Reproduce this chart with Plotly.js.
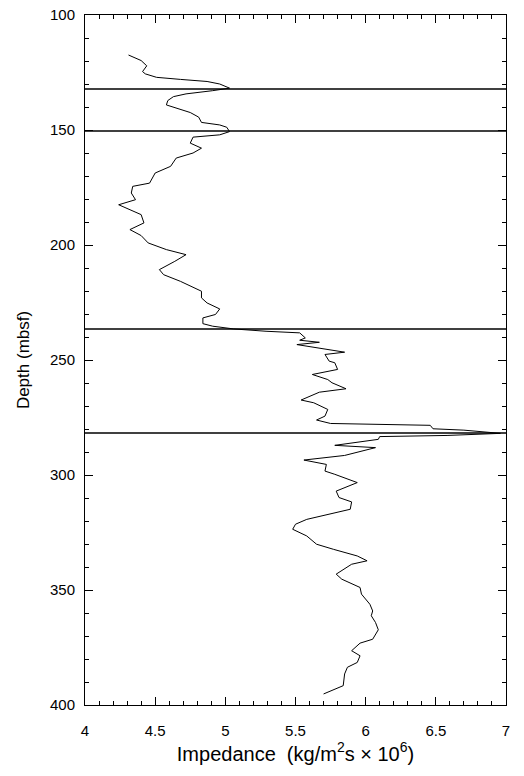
<!DOCTYPE html>
<html>
<head>
<meta charset="utf-8">
<script src="https://cdn.plot.ly/plotly-3.0.1.min.js"></script>
<style>body{margin:0;padding:0;background:#fff;}#chart{width:524px;height:776px;}</style>
</head>
<body>
<div id="chart"></div>
<script>
const impedance = [4.31,4.40,4.44,4.41,4.43,4.51,4.68,4.87,4.96,5.03,4.91,4.72,4.63,4.59,4.58,4.65,4.75,4.81,4.83,4.96,5.01,5.03,4.96,4.77,4.75,4.83,4.77,4.65,4.61,4.50,4.46,4.34,4.33,4.36,4.24,4.40,4.42,4.32,4.40,4.45,4.58,4.72,4.64,4.53,4.56,4.68,4.75,4.83,4.83,4.87,4.96,4.93,4.84,4.84,4.91,5.06,5.29,5.53,5.57,5.53,5.67,5.51,5.85,5.71,5.74,5.78,5.80,5.62,5.73,5.76,5.86,5.67,5.54,5.63,5.73,5.71,5.65,5.75,6.46,6.48,6.70,6.96,6.58,6.10,6.09,5.78,6.07,5.85,5.56,5.72,5.71,5.78,5.94,5.79,5.81,5.90,5.89,5.58,5.50,5.48,5.58,5.65,5.77,5.94,6.01,5.90,5.79,5.83,5.96,5.97,6.03,6.05,6.04,6.07,6.09,6.05,5.96,5.90,5.96,5.94,5.87,5.85,5.84,5.70];
const depth = [117.4,119.8,122.1,124.6,125.6,127.1,128.0,128.9,130.0,131.8,132.9,134.3,135.5,137.2,139.1,140.5,142.4,144.4,146.7,147.8,148.8,150.7,152.1,153.1,155.7,157.9,160.0,162.2,165.8,168.7,173.1,174.5,177.4,180.3,182.5,186.8,190.4,193.3,195.9,199.1,202.0,204.2,207.1,210.7,212.9,215.8,217.7,220.1,223.0,225.2,227.8,230.2,231.7,234.2,235.3,236.5,237.5,238.2,240.4,241.4,242.3,243.3,246.6,247.6,250.5,251.2,254.1,256.3,258.5,259.9,262.5,264.0,267.4,268.6,271.5,274.4,276.1,277.6,278.4,279.9,280.5,281.9,282.8,283.3,284.5,287.1,288.1,291.5,293.5,295.4,298.3,299.7,303.3,307.0,309.8,311.7,314.9,319.3,321.4,323.6,326.5,330.1,332.3,335.2,337.3,338.8,343.1,345.3,348.9,351.8,356.2,359.1,361.2,364.1,367.3,371.4,373.1,376.4,378.6,381.5,383.6,386.5,391.6,395.2];
const boundaryDepths = [132.2, 150.4, 236.5, 281.7];

const shapes = boundaryDepths.map(d => ({
  type: 'line', xref: 'paper', x0: 0, x1: 1, yref: 'y', y0: d, y1: d,
  line: {color: '#000', width: 1.5}
}));

const axisCommon = {
  showline: true, linecolor: '#000', linewidth: 1, mirror: 'ticks',
  ticks: 'inside', ticklen: 8, tickcolor: '#000', tickwidth: 1,
  showgrid: false, zeroline: false,
  tickfont: {family: 'Liberation Sans, Arial, sans-serif', size: 15, color: '#000'}
};

const layout = {
  width: 524, height: 776,
  margin: {l: 85, r: 18, t: 15, b: 71},
  paper_bgcolor: '#fff', plot_bgcolor: '#fff',
  showlegend: false,
  font: {family: 'Liberation Sans, Arial, sans-serif', color: '#000'},
  xaxis: Object.assign({}, axisCommon, {
    range: [4, 7], dtick: 0.5, tick0: 4,
    ticklabelstandoff: 12,
    minor: {dtick: 0.1, ticks: 'inside', ticklen: 4, tickcolor: '#000', showgrid: false},
    title: {text: 'Impedance  (kg/m<sup>2</sup>s × 10<sup>6</sup>)', font: {size: 20, color: '#000'}, standoff: 8}
  }),
  yaxis: Object.assign({}, axisCommon, {
    range: [400, 100], dtick: 50, tick0: 100,
    ticklabelstandoff: 6,
    minor: {dtick: 10, ticks: 'inside', ticklen: 4, tickcolor: '#000', showgrid: false},
    title: {text: 'Depth (mbsf)', font: {size: 17, color: '#000'}, standoff: 16}
  }),
  shapes: shapes
};

Plotly.newPlot('chart', [{
  x: impedance, y: depth, type: 'scatter', mode: 'lines',
  line: {color: '#000', width: 1}
}], layout, {staticPlot: true});
</script>
</body>
</html>
